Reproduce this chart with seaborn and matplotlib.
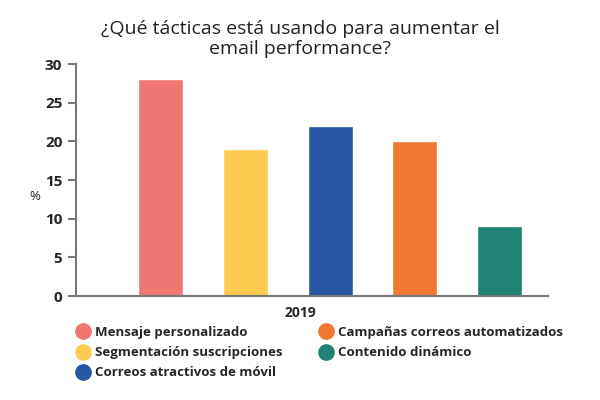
import matplotlib
matplotlib.use('Agg')
import matplotlib.pyplot as plt
import pandas as pd
import seaborn as sns
from matplotlib.lines import Line2D

# Data
tacticas = ['Mensaje personalizado', 'Segmentación suscripciones',
            'Correos atractivos de móvil', 'Campañas correos automatizados',
            'Contenido dinámico']
valores = [28, 19, 22, 20, 9]
anio = ['2019'] * 5
colores = ['#F07672', '#FECB52', '#2656A4', '#F07830', '#218375']

df = pd.DataFrame({'anio': anio, 'tactica': tacticas, 'valor': valores})

sns.set_style('white')
plt.rcParams['font.family'] = ['Open Sans', 'DejaVu Sans']

fig = plt.figure(figsize=(6, 4), dpi=100)
ax = fig.add_axes([0.127, 0.26, 0.786, 0.58])

sns.barplot(data=df, x='anio', y='valor', hue='tactica', hue_order=tacticas,
            palette=colores, width=1.0, gap=0.47, ax=ax, legend=False,
            saturation=1)

ax.set_xlim(-0.598, 0.513)
ax.set_ylim(0, 30)
ax.set_yticks(range(0, 31, 5))
ax.set_xticks([])
ax.set_xticks([0.513], minor=True)
ax.tick_params(axis='x', which='minor', direction='in', length=4,
               width=1.5, color='#777777')
ax.tick_params(axis='y', direction='out', length=6, width=1.5,
               color='#777777', labelsize=11, pad=4, left=True)
for lab in ax.get_yticklabels():
    lab.set_fontweight('bold')

sns.despine(ax=ax, top=True, right=True)
for side in ['left', 'bottom']:
    ax.spines[side].set_color('#777777')
    ax.spines[side].set_linewidth(1.5)

ax.set_ylabel('%', rotation=0, fontsize=9.5, va='center', ha='center')
ax.yaxis.set_label_coords(-0.087, 0.427)
ax.set_xlabel('2019', fontsize=10, fontweight='bold')
ax.xaxis.set_label_coords(0.475, -0.042)

fig.text(0.5, 0.903, '¿Qué tácticas está usando para aumentar el\nemail performance?',
         ha='center', va='center', fontsize=14, linespacing=1.15,
         color='#222222')

handles = [Line2D([], [], marker='o', linestyle='', markersize=11,
                  markerfacecolor=c, markeredgecolor=c) for c in colores]
leg = fig.legend(handles, tacticas,
                 loc='upper left', bbox_to_anchor=(0.105, 0.215), ncol=2,
                 frameon=False, prop={'weight': 'bold', 'size': 9.5},
                 handletextpad=0.3, columnspacing=2.7, labelspacing=0.55,
                 handlelength=1.2)

fig.savefig('out.png', dpi=100)
